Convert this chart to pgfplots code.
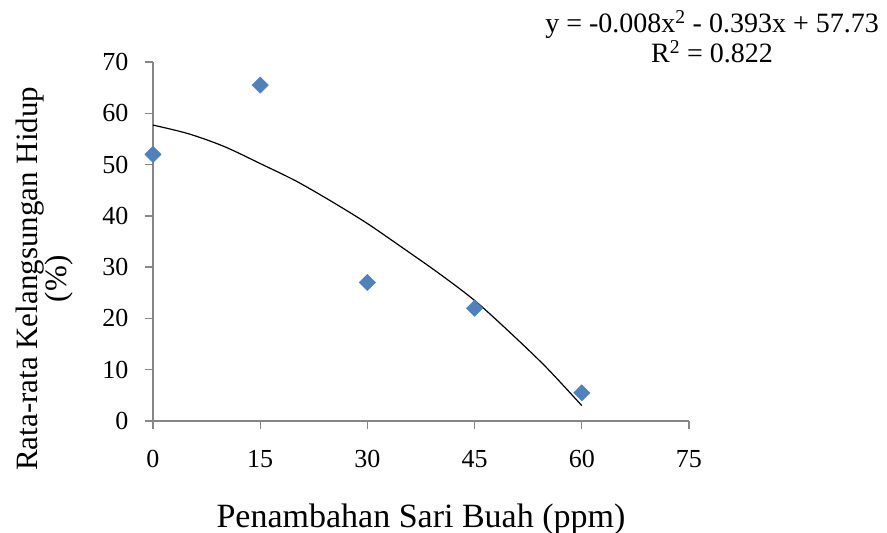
\documentclass[border=0pt]{standalone}
\usepackage{pgfplots}
\pgfplotsset{compat=1.18}
\usepackage{fontspec}
\setmainfont{Liberation Serif}
\definecolor{axgray}{HTML}{868686}
\definecolor{mblue}{HTML}{4F81BD}
\begin{document}
\begin{tikzpicture}
\path[use as bounding box] (-153pt,-112pt) rectangle (734pt,421pt);
\begin{axis}[
  at={(0pt,0pt)}, anchor=south west,
  scale only axis,
  width=536pt, height=359pt,
  xmin=0, xmax=75, ymin=0, ymax=70,
  xtick={0,15,30,45,60,75},
  ytick={0,10,...,70},
  axis lines*=left,
  axis line style={axgray, line width=1.3pt},
  tick style={axgray, line width=1.3pt},
  tick align=outside,
  major tick length=8pt,
  /pgf/number format/assume math mode=true,
  ticklabel style={font=\fontsize{26}{28}\selectfont, text=black},
  xticklabel style={yshift=-18pt},
  yticklabel style={xshift=-13pt},
  xlabel={Penambahan Sari Buah (ppm)},
  xlabel style={font=\fontsize{34}{38}\selectfont, at={(axis description cs:0.5,-0.22)}, anchor=north},
  ylabel={Rata-rata Kelangsungan Hidup\\(\%)},
  ylabel style={font=\fontsize{31}{29}\selectfont, align=center, at={(axis description cs:-0.263,0.396)}, anchor=north},
  clip=false,
]
\addplot[black, line width=1.2pt, smooth] coordinates {
  (0,57.7) (5,56.0) (10,53.5) (15,50.2) (20,46.8) (25,42.8) (30,38.5)
  (35,33.7) (40,28.8) (45,23.5) (50,17.2) (55,10.5) (60,3.0)
};
\addplot[only marks, mark=square*, mark size=5.8pt, mark options={rotate=45, fill=mblue, draw=mblue}] coordinates {
  (0,52) (15,65.5) (30,27) (45,22) (60,5.5)
};
\node[align=center, anchor=north, font=\fontsize{28}{30}\selectfont, inner sep=0pt] at (rel axis cs:1.043,1.145)
  {y = -0.008x\textsuperscript{2} - 0.393x + 57.73\\R\textsuperscript{2} = 0.822};
\end{axis}
\end{tikzpicture}
\end{document}
